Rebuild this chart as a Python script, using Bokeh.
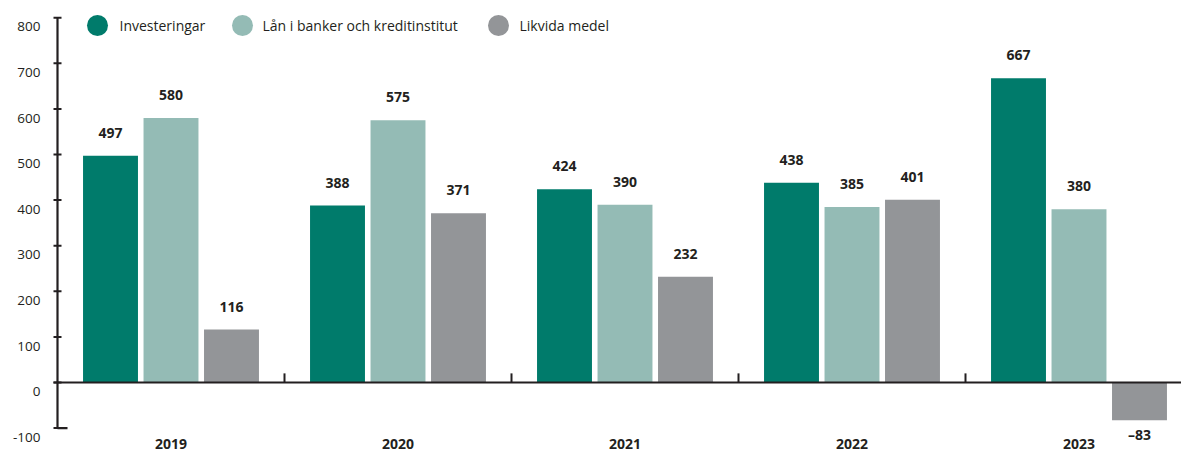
from bokeh.plotting import figure
from bokeh.models import Range1d, FixedTicker, ColumnDataSource
from bokeh.core.properties import value
from bokeh.embed import file_html
from bokeh.resources import INLINE

# ---- data ----
years = ["2019", "2020", "2021", "2022", "2023"]
investeringar = [497, 388, 424, 438, 667]
lan_banker = [580, 575, 390, 385, 380]
likvida = [116, 371, 232, 401, -83]
series_names = ["Investeringar", "Lån i banker och kreditinstitut", "Likvida medel"]
colors = ["#007B6B", "#94BBB5", "#939598"]
y_ticks = [-100, 0, 100, 200, 300, 400, 500, 600, 700, 800]
y_tick_labels = ["-100", "0", "100", "200", "300", "400", "500", "600", "700", "800"]

FONT = "Open Sans"
TXT = "#231F20"

W, H = 1181, 452
LEFT = 45          # frame left edge (px)
AX = 57            # y axis line position (px)
PXU = 227.0        # px per x unit
SY = 0.456         # px per y unit
ZERO_PX = 382      # pixel row of y = 0

x_start = -(AX - LEFT) / PXU
x_end = x_start + (W - LEFT) / PXU
y_end = ZERO_PX / SY
y_start = -(H - ZERO_PX) / SY

p = figure(width=W, height=H, output_backend="svg", toolbar_location=None,
           x_range=Range1d(x_start, x_end), y_range=Range1d(y_start, y_end),
           x_axis_location=None,
           min_border_left=LEFT, min_border_right=0, min_border_top=0,
           min_border_bottom=0)
p.outline_line_color = None
p.grid.visible = False
p.background_fill_color = "white"

def px(n):
    return n / PXU

# bars + value labels
offsets = [-0.2665, 0.0, 0.2665]
bw = 0.242
all_series = [investeringar, lan_banker, likvida]
for s, off, col in zip(all_series, offsets, colors):
    xs = [i + 0.5 + off for i in range(len(years))]
    src = ColumnDataSource(dict(x=xs, top=s))
    p.vbar(x="x", top="top", bottom=0, width=bw, source=src,
           fill_color=col, line_color=None)
    pos = ColumnDataSource(dict(x=[x for x, v in zip(xs, s) if v >= 0],
                                y=[v for v in s if v >= 0],
                                lab=[str(v) for v in s if v >= 0]))
    neg = ColumnDataSource(dict(x=[x for x, v in zip(xs, s) if v < 0],
                                y=[v for v in s if v < 0],
                                lab=["–" + str(-v) for v in s if v < 0]))
    p.text(x="x", y="y", text="lab", source=pos, y_offset=-23,
           text_align="center", text_baseline="middle",
           text_font=value(FONT), text_font_style="bold",
           text_font_size="14px", text_color=TXT)
    p.text(x="x", y="y", text="lab", source=neg, y_offset=14,
           text_align="center", text_baseline="middle",
           text_font=value(FONT), text_font_style="bold",
           text_font_size="14px", text_color=TXT)

# zero baseline
p.segment(x0=[px(-4)], y0=[0], x1=[x_end], y1=[0], line_color=TXT, line_width=2)

# y axis line, ticks and foot
p.segment(x0=[0], y0=[y_ticks[0]], x1=[0], y1=[y_ticks[-1]], line_color=TXT, line_width=2.2)
p.segment(x0=[px(-4)] * len(y_ticks), y0=y_ticks, x1=[px(4)] * len(y_ticks), y1=y_ticks,
          line_color=TXT, line_width=2)
p.segment(x0=[0], y0=[y_ticks[0]], x1=[px(10)], y1=[y_ticks[0]], line_color=TXT, line_width=2.2)

# group separator ticks
sep_x = [float(i) for i in range(1, len(years))]
p.segment(x0=sep_x, y0=[0] * len(sep_x), x1=sep_x, y1=[20] * len(sep_x),
          line_color=TXT, line_width=2)

# y axis: labels only (set slightly below their ticks, as in the original)
LAB_SHIFT = 20
ya = p.yaxis[0]
ya.ticker = FixedTicker(ticks=[t - LAB_SHIFT for t in y_ticks])
ya.major_label_overrides = {t - LAB_SHIFT: l for t, l in zip(y_ticks, y_tick_labels)}
ya.axis_line_color = None
ya.major_tick_line_color = None
ya.minor_tick_line_color = None
ya.major_tick_in = 0
ya.major_tick_out = 0
ya.major_label_standoff = 5
ya.major_label_text_font = FONT
ya.major_label_text_font_size = "13.5px"
ya.major_label_text_color = TXT

# year labels (category labels)
p.text(x=[i + 0.5 for i in range(len(years))], y=[y_ticks[0]] * len(years), text=years,
       y_offset=16, text_align="center", text_baseline="middle",
       text_font=value(FONT), text_font_style="bold", text_font_size="14px",
       text_color=TXT)

# legend (manual, circles)
def dx(fx):
    return (fx - AX) / PXU

def dy(fy):
    return (ZERO_PX - fy) / SY

leg_cx = [97, 242, 498]
leg_tx = [119, 262, 519]
leg_fy = 25
p.scatter(x=[dx(v) for v in leg_cx], y=[dy(leg_fy)] * 3, size=21,
          marker="circle", fill_color=colors, line_color=None)
p.text(x=[dx(v) for v in leg_tx], y=[dy(leg_fy)] * 3, text=series_names,
       text_align="left", text_baseline="middle", text_font=value(FONT),
       text_font_size="14px", text_color=TXT)

open("out.html", "w").write(file_html(p, INLINE))
